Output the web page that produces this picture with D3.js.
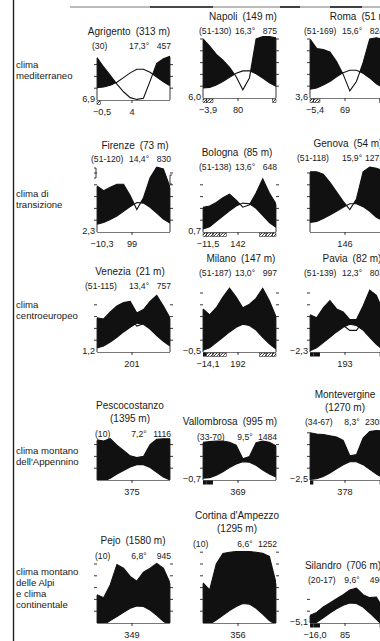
<!DOCTYPE html>
<html><head><meta charset="utf-8">
<script src="https://cdn.jsdelivr.net/npm/d3@7"></script>
<style>
html,body{margin:0;padding:0;background:#fff;}
svg{display:block;}
text{font-family:"Liberation Sans", Arial, Helvetica, sans-serif; fill:#1a1a1a;}
</style></head><body>
<svg id="chart" width="380" height="641"></svg>
<script>
// ---------------- DATA ----------------
const months = ["gen","feb","mar","apr","mag","giu","lug","ago","set","ott","nov","dic"];
const stations = ["Agrigento","Napoli","Roma","Firenze","Bologna","Genova","Venezia","Milano","Pavia","Pescocostanzo","Vallombrosa","Montevergine","Pejo","Cortina d'Ampezzo","Silandro"];
const altitudes = ["313","149","51","73","85","54","21","147","82","1395","995","1270","1580","1295","706"];
const periods = ["(30)","(51-130)","(51-169)","(51-120)","(51-138)","(51-118)","(51-115)","(51-187)","(51-139)","(10)","(33-70)","(34-67)","(10)","(10)","(20-17)"];
const meanTemps = ["17,3°","16,3°","15,6°","14,4°","13,6°","15,9°","13,4°","13,0°","12,3°","7,2°","9,5°","8,3°","6,8°","6,6°","9,6°"];
const annualRain = ["457","875","824","830","648","1271","757","997","803","1116","1484","2305","945","1252","496"];
const coldestMin = ["6,9","6,0","3,6","2,3","0,7","","1,2","−0,5","−2,3","","−0,7","−2,5","","","−5,1"];
const absoluteMin = ["−0,5","−3,9","−5,4","−10,3","−11,5","","","−14,1","","","","","","","−16,0"];
const bottomValues = ["4","80","69","99","142","146","201","192","193","375","369","378","349","356","85"];
const rowLabels = [["clima","mediterraneo"],["clima di","transizione"],["clima","centroeuropeo"],["clima montano","dell'Appennino"],["clima montano","delle Alpi","e clima","continentale"]];

// monthly mean temperature (°C)
const tAgrigento = [10.5,11,12.5,15,19,23,26,26,23.5,19.5,15.5,12];
const tNapoli    = [8.5,9,11,14,17.5,21,23,23,20.5,17,13,10];
const tRoma      = [7.5,8.5,11,14,18,21.5,23.5,23.5,21,17,12,9];
const tFirenze   = [6.5,8,10.5,13.5,17.5,21.5,25,24.5,21,16,11,7.5];
const tBologna   = [2.5,4.5,9,13.5,18,22,24.5,24,20,14,8,4];
const tGenova    = [8,9,11.5,14.5,17.5,21,24,24,21.5,17.5,12.5,9.5];
const tVenezia   = [3.5,5,8.5,12.5,17,21,24.5,23.5,19.5,14,9,5];
const tMilano    = [1.5,3.5,8,12.5,17,21,23.5,22.5,18.5,12.5,7,2.5];
const tPavia     = [1,3.5,8,12.5,17,21,23.5,22.5,18.5,12.5,6.5,2];
const tPescocostanzo = [-1.5,-1,1.5,5,8,11,13,13,10.5,6.5,2.5,0];
const tVallombrosa = [1.5,2,4,7,10.5,13.5,15.5,15,12.5,8.5,5,2.5];
const tMontevergine = [0.5,1,3,6,9.5,13,15.5,15.5,13,9,5,2];
const tPejo      = [-3,-1.5,2,5.5,9,12.5,14.5,14,11,6.5,1.5,-2];
const tCortina   = [-2.5,-1,2.5,6.5,10.5,14,16.5,16,12.5,7.5,2,-1.5];
const tSilandro  = [-3,0.5,4.5,8.5,12,15,17,16.5,13.5,8.5,3,-2];

// monthly precipitation (mm, 20 mm = 10 °C)
const pAgrigento = [72,56,42,27,14,4,1,3,32,62,70,74];
const pNapoli    = [100,88,74,64,52,36,14,34,100,104,104,102];
const pRoma      = [100,84,82,78,62,40,12,28,60,100,102,100];
const pFirenze   = [78,70,76,81,81,62,38,58,92,110,107,76];
const pBologna   = [42,44,50,58,64,54,42,46,66,90,66,48];
const pGenova    = [102,102,98,84,68,52,38,56,102,110,108,104];
const pVenezia   = [58,56,68,78,84,86,66,72,86,96,78,58];
const pMilano    = [73,63,75,93,108,93,75,81,91,108,87,60];
const pPavia     = [63,58,75,87,73,68,55,55,78,105,96,70];
const pPescocostanzo = [68,66,70,59,50,41,38,40,60,69,70,70];
const pVallombrosa = [64,65,66,66,64,59,36,40,63,66,64,58];
const pMontevergine = [80,78,77,75,73,67,41,43,71,82,84,83];
const pPejo      = [48,43,65,99,93,79,71,86,93,101,93,68];
const pCortina   = [68,56,100,118,120,121,121,121,120,118,113,68];
const pSilandro  = [13,18,27,34,41,48,56,59,48,43,44,25];

const temperature = [tAgrigento,tNapoli,tRoma,tFirenze,tBologna,tGenova,tVenezia,tMilano,tPavia,tPescocostanzo,tVallombrosa,tMontevergine,tPejo,tCortina,tSilandro];
const precipitation = [pAgrigento,pNapoli,pRoma,pFirenze,pBologna,pGenova,pVenezia,pMilano,pPavia,pPescocostanzo,pVallombrosa,pMontevergine,pPejo,pCortina,pSilandro];

// months with frost (solid = mean minimum below 0, hatched = absolute minimum below 0)
const frostSolid   = [[],[],[],[],[],[],[],[0],[0,1,11],[],[0,1],[0,11],[],[],[0,1,11]];
const frostHatched = [[0],[0,1,11],[0,1,11],[],[0,1,2,3,9,10,11],[],[],[1,2,3,9,10,11],[],[],[],[],[],[],[]];
// stations showing the sub-dry (1°C = 3 mm) curve
const subdryStations = ["Venezia","Pavia"];

// ---------------- LAYOUT ----------------
const PW = 73;                   // plot width
const K = 1.18;                  // px per °C
const colX = [97, 203, 310];
const rowBottom = [[100,98,98],[232,232,232],[352,352,352],[480,480,480],[623,623,623]];
const titleLines = [[35,49],[20,34],[20,34],[149,162],[156,170],[147,161],[275,289],[262,276],[262,276],[409,422,437],[425,440],[398,411,425],[544,559],[519,532,547],[569,583]];
const titleDx = [32,40,50,38,34,38,33,38,42,33,27,35,36,34,33];
const periodDx = [-5,-4,-6,-6,-4,-13,-12,-4,-6,-2,-6,-5,-2,-10,-2];
const rowLabelY = [[68,79],[197,208],[308,319],[454,465],[575,586,597,608]];

const svg = d3.select("#chart");
const defs = svg.append("defs");
const hatch = defs.append("pattern").attr("id","hatch").attr("patternUnits","userSpaceOnUse")
  .attr("width",3).attr("height",3);
hatch.append("path").attr("d","M-1,1 l2,-2 M0,3 l3,-3 M2,4 l2,-2").attr("stroke","#111").attr("stroke-width",0.8);

// frame lines
svg.append("line").attr("x1",13.5).attr("x2",13.5).attr("y1",0).attr("y2",641).attr("stroke","#222").attr("stroke-width",1.4);
svg.append("line").attr("x1",70).attr("x2",380).attr("y1",7).attr("y2",7).attr("stroke","#777").attr("stroke-width",1);
[[150,213],[280,300],[330,362]].forEach(s=>{
  svg.append("line").attr("x1",s[0]).attr("x2",s[1]).attr("y1",7).attr("y2",7).attr("stroke","#222").attr("stroke-width",1.6);
});

// row labels
rowLabels.forEach((lines, r) => {
  lines.forEach((t, j) => {
    svg.append("text").attr("x",16).attr("y",rowLabelY[r][j]).attr("font-size",9.6).text(t);
  });
});

const x = d3.scalePoint().domain(months);

stations.forEach((name, i) => {
  const col = i % 3, row = Math.floor(i / 3);
  const L = colX[col], R = L + PW, B = rowBottom[row][col];
  const xs = x.copy().range([L, R]);
  const step = xs.step();
  const yT = d3.scaleLinear().domain([0, 10]).range([B, B - 10 * K]);
  const yP = d3.scaleLinear().domain([0, 20]).range([B, B - 10 * K]);
  const T = temperature[i], P = precipitation[i];
  const data = months.map((m, j) => ({m, t: T[j], p: P[j]}));

  // clip paths
  defs.append("clipPath").attr("id","plot"+i).append("rect")
    .attr("x",L).attr("y",B-150).attr("width",PW).attr("height",150);
  defs.append("clipPath").attr("id","aboveT"+i).append("path")
    .attr("d", d3.area().x(d=>xs(d.m)).y0(B-300).y1(d=>yT(d.t))(data));
  defs.append("clipPath").attr("id","belowT"+i).append("path")
    .attr("d", d3.area().x(d=>xs(d.m)).y0(B+50).y1(d=>yT(d.t))(data));

  const g = svg.append("g").attr("clip-path","url(#plot"+i+")");
  // humid period: between precipitation and temperature curves
  g.append("g").attr("clip-path","url(#aboveT"+i+")")
    .append("path").attr("fill","#111")
    .attr("d", d3.area().x(d=>xs(d.m)).y0(B+50).y1(d=>yP(d.p))(data));
  // curves
  g.append("path").attr("fill","none").attr("stroke","#111").attr("stroke-width",1.1)
    .attr("d", d3.line().x(d=>xs(d.m)).y(d=>yT(d.t))(data));
  g.append("path").attr("fill","none").attr("stroke","#111").attr("stroke-width",1.1)
    .attr("d", d3.line().x(d=>xs(d.m)).y(d=>yP(d.p))(data));
  if (subdryStations.includes(name)) {
    g.append("g").attr("clip-path","url(#belowT"+i+")")
      .append("path").attr("fill","none").attr("stroke","#111").attr("stroke-width",1.1)
      .attr("d", d3.line().x(d=>xs(d.m)).y(d=>yT(d.p/3))(data));
  }

  // axes
  const maxU = Math.max(d3.max(P)/2, d3.max(T));
  const ticks = d3.range(10, Math.floor(maxU/10)*10 + 1, 10);
  const ax = svg.append("g").attr("stroke","#222").attr("stroke-width",0.9);
  ax.append("line").attr("x1",L).attr("x2",L).attr("y1",B).attr("y2",yP(P[0])+0.5);
  ax.append("line").attr("x1",R).attr("x2",R).attr("y1",B).attr("y2",yP(P[11])+0.5);
  ticks.forEach(v => {
    ax.append("line").attr("x1",L-3).attr("x2",L).attr("y1",yT(v)).attr("y2",yT(v));
    ax.append("line").attr("x1",R).attr("x2",R+3).attr("y1",yT(v)).attr("y2",yT(v));
  });
  ax.append("line").attr("x1",L).attr("x2",R).attr("y1",B+0.5).attr("y2",B+0.5).attr("stroke","#555").attr("stroke-width",0.8);
  ax.append("line").attr("x1",L+35).attr("x2",L+35).attr("y1",B).attr("y2",B+3);

  // frost bars
  const bar = (m) => {
    const x0 = Math.max(L, xs(months[m]) - step/2), x1 = Math.min(R, xs(months[m]) + step/2);
    return [x0, x1 - x0];
  };
  frostHatched[i].forEach(m => {
    const [bx, bw] = bar(m);
    svg.append("rect").attr("x",bx).attr("y",B+1).attr("width",bw).attr("height",3.5)
      .attr("fill","url(#hatch)").attr("stroke","#111").attr("stroke-width",0.5);
  });
  frostSolid[i].forEach(m => {
    const [bx, bw] = bar(m);
    svg.append("rect").attr("x",bx).attr("y",B+0.5).attr("width",bw).attr("height",4).attr("fill","#111");
  });

  // titles
  const tl = titleLines[i];
  const cx = L + titleDx[i];
  if (name.length >= 12) {
    svg.append("text").attr("x",cx).attr("y",tl[0]).attr("text-anchor","middle").attr("font-size",10).text(name);
    svg.append("text").attr("x",cx).attr("y",tl[1]).attr("text-anchor","middle").attr("font-size",10).text("(" + altitudes[i] + " m)");
  } else {
    svg.append("text").attr("x",cx).attr("y",tl[0]).attr("text-anchor","middle").attr("font-size",10)
      .text(name + "\u2002(" + altitudes[i] + " m)");
  }
  const ly = tl[tl.length-1];
  const fs2 = 8.6;
  svg.append("text").attr("x",L+periodDx[i]).attr("y",ly).attr("font-size",fs2).text(periods[i]);
  svg.append("text").attr("x",L+42).attr("y",ly).attr("text-anchor","middle").attr("font-size",fs2).text(meanTemps[i]);
  svg.append("text").attr("x",L+74).attr("y",ly).attr("text-anchor","end").attr("font-size",fs2).text(annualRain[i]);

  // bottom labels
  if (coldestMin[i]) svg.append("text").attr("x",L-2).attr("y",B+2).attr("text-anchor","end").attr("font-size",9.2).text(coldestMin[i]);
  if (absoluteMin[i]) svg.append("text").attr("x",L+5).attr("y",B+15).attr("text-anchor","middle").attr("font-size",9.2).text(absoluteMin[i]);
  svg.append("text").attr("x",L+35).attr("y",B+15).attr("text-anchor","middle").attr("font-size",9.2).text(bottomValues[i]);
});

// scan marks near Firenze
svg.append("path").attr("d","M94,168 h2 v10 h-2 M172,175 h-2 v9 h2").attr("fill","none").attr("stroke","#222").attr("stroke-width",0.9);
</script>
</body></html>
